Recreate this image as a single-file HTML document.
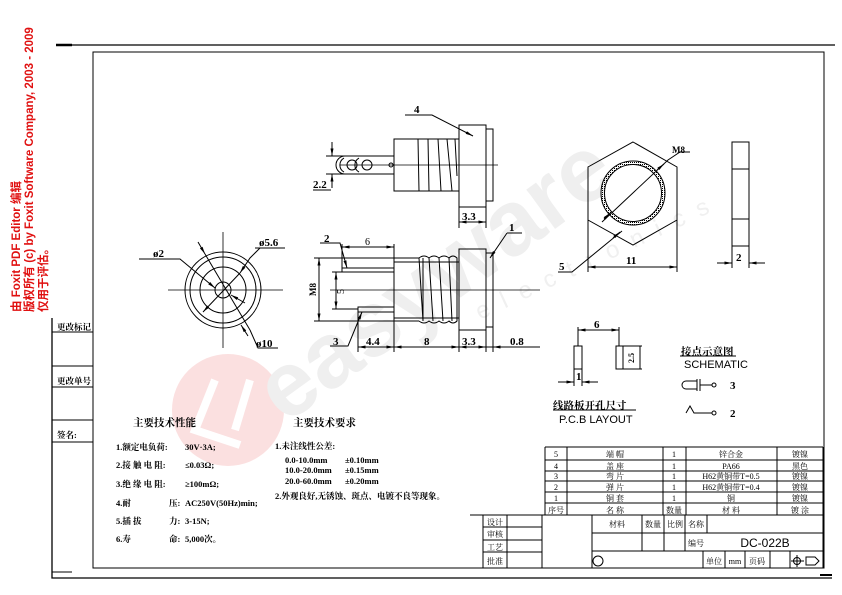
<!DOCTYPE html>
<html><head><meta charset="utf-8"><style>
html,body{margin:0;padding:0;background:#fff}
svg{display:block}
text{font-family:"Liberation Serif","Noto Serif CJK SC","Noto Sans CJK SC",serif;fill:#000}
.b{font-weight:bold}
text.wm{font-family:"Liberation Sans","Noto Sans CJK SC",sans-serif;font-size:11.5px;font-weight:bold;fill:#e01010}
</style></head><body>
<svg width="842" height="595" viewBox="0 0 842 595" xmlns="http://www.w3.org/2000/svg">
<defs>
<marker id="a" viewBox="0 0 10 4" refX="10" refY="2" markerWidth="8" markerHeight="3" orient="auto-start-reverse"><path d="M0,0L10,2L0,4z" fill="#000"/></marker>
<pattern id="h" width="2" height="2" patternUnits="userSpaceOnUse"><rect width="1" height="1" fill="#000"/></pattern>
</defs>
<!-- watermarks -->
<circle cx="228" cy="410" r="56" fill="#fbe0e0"/>
<path d="M215,380 L195,430 L240,445 M250,380 L235,430" stroke="#fff" stroke-width="8" fill="none"/>
<text x="0" y="0" transform="translate(285,425) rotate(-36)" style="font-family:'Liberation Sans',sans-serif;font-size:92px;fill:#efefef;font-weight:bold">easyware</text>
<text x="0" y="0" transform="translate(480,320) rotate(-25)" style="font-family:'Liberation Sans',sans-serif;font-size:24px;fill:#f0f0f0;letter-spacing:14px">electronics</text>
<text class="wm" transform="translate(20,312) rotate(-90)">由 Foxit PDF Editor 编辑</text>
<text class="wm" transform="translate(33,312) rotate(-90)">版权所有 (c) by Foxit Software Company, 2003 - 2009</text>
<text class="wm" transform="translate(47,312) rotate(-90)">仅用于评估。</text>
<g stroke="#000" fill="none" stroke-width="1">
<!-- frames -->
<path d="M56,45H835" stroke-width="1.3"/><path d="M56,45H72" stroke-width="2.5"/>
<rect x="93" y="52" width="731" height="516"/>
<path d="M52,318V578H832" stroke-width="1.3"/>
<path d="M52,572H72"/><path d="M820,575H832" stroke-width="2"/>
<path d="M52,332H93M52,366H93M52,387H93M52,420H93M52,442H93"/>
<!-- side view top -->
<rect x="394" y="139" width="65" height="52"/>
<rect x="459" y="125" width="27" height="82"/>
<rect x="486" y="129" width="7" height="72"/>
<path d="M418,139L419,191M428,139L429,191M438,139L441,191M447,139L452,191M455,139L457,176"/>
<path d="M340,165H498" stroke-width="0.7"/>
<path d="M394,156H345A9,9 0 0 0 345,174H394"/>
<circle cx="352" cy="165" r="5"/><circle cx="367" cy="165" r="5"/>
<path d="M359,158A8,8 0 0 0 359,172M344,158A8,8 0 0 0 344,172"/>
<circle cx="391" cy="165" r="2"/>
<path d="M326,156H345M326,174H345"/>
<path d="M332,142V156" marker-end="url(#a)"/><path d="M332,188V174" marker-end="url(#a)"/>
<path d="M313,190H331"/>
<path d="M417,115H432L473,136" marker-end="url(#a)"/><path d="M405,115H432"/>
<path d="M459,207V228M486,207V228"/><path d="M459,222H486" marker-start="url(#a)" marker-end="url(#a)"/>
<path d="M462,222H482"/>
<!-- front view -->
<rect x="394" y="262" width="65" height="56"/>
<rect x="459" y="249" width="27" height="81"/>
<rect x="486" y="253" width="7" height="74"/>
<path d="M394,258H419M394,321H419"/>
<path d="M419,258q5,-4 10,0q5,-4 10,0q5,-4 10,0q4,-4 8,0V321q-4,4 -8,0q-5,4 -10,0q-5,4 -10,0q-5,4 -10,0"/>
<path d="M419,258L423,321M429,258L433,321M439,258L443,321M449,258L452,321M457,258V321M423,258V321"/>
<path d="M330,290H540" stroke-width="0.7"/>
<path d="M394,268H342V272H394M394,307H358V312H394"/>
<path d="M314,258H394M314,321H394"/>
<path d="M319,258V321" marker-start="url(#a)" marker-end="url(#a)"/>
<path d="M332,272H342M332,309H358"/>
<path d="M336,272V309" marker-start="url(#a)" marker-end="url(#a)"/>
<path d="M342,244V268M394,244V262"/>
<path d="M342,247H394" marker-start="url(#a)" marker-end="url(#a)"/>
<path d="M320,243H340L347,268" marker-end="url(#a)"/>
<path d="M330,346H348L362,312" marker-end="url(#a)"/>
<path d="M507,233H522M507,233L490,258" marker-end="url(#a)"/>
<path d="M358,312V352M394,318V352M459,330V352M486,330V352M493,327V352"/>
<path d="M358,347H540"/>
<path d="M358,347H394" marker-start="url(#a)" marker-end="url(#a)"/>
<path d="M394,347H459" marker-start="url(#a)" marker-end="url(#a)"/>
<path d="M459,347H486" marker-start="url(#a)" marker-end="url(#a)"/>
<path d="M520,347H493" marker-end="url(#a)"/>
<!-- circle view -->
<circle cx="223" cy="290" r="38"/><circle cx="223" cy="290" r="33"/>
<circle cx="223" cy="290" r="23"/><circle cx="223" cy="290" r="8"/>
<path d="M168,290H283M223,232V348" stroke-width="0.8"/>
<path d="M139,259H180L215,288" marker-end="url(#a)"/>
<path d="M198,242L205,254" marker-end="url(#a)"/><path d="M205,254L250,330"/>
<path d="M260,248L250,258L240,273" marker-end="url(#a)"/><path d="M240,273L203,312" marker-end="url(#a)"/>
<path d="M231,295L245,303" marker-start="url(#a)"/>
<path d="M250,330L258,348H278" /><path d="M248,336L241,325" marker-end="url(#a)"/>
<path d="M255,248H285"/>
<!-- hex -->
<path d="M633,142L677,167V220L633,245L588,220V167Z"/>
<circle cx="633" cy="193" r="32" fill="url(#h)" stroke="#000"/>
<circle cx="633" cy="193" r="28.5" fill="#fff"/>
<path d="M602,222L668,160L680,152H690" /><path d="M664,164L657,170" marker-start="url(#a)"/>
<path d="M604,219L610,213" marker-end="url(#a)"/>
<path d="M558,272H572L622,231" /><path d="M613,238L620,232" marker-end="url(#a)"/>
<path d="M588,220V272M677,220V272"/>
<path d="M588,267H677" marker-start="url(#a)" marker-end="url(#a)"/>
<rect x="732" y="142" width="17" height="104"/>
<path d="M732,169H749M732,219H749M732,246V268M749,246V268"/>
<path d="M717,263H732" marker-end="url(#a)"/><path d="M765,263H749" marker-end="url(#a)"/>
<!-- pcb -->
<rect x="574" y="346" width="8" height="23"/><rect x="616" y="346" width="7" height="23"/>
<path d="M578,327V346M619,327V346"/>
<path d="M578,330H619" marker-start="url(#a)" marker-end="url(#a)"/>
<path d="M574,369V386M582,369V386"/>
<path d="M558,382H574" marker-end="url(#a)"/><path d="M598,382H582" marker-end="url(#a)"/>
<path d="M623,346H642M623,369H642M640,346V369"/>
<path d="M553,410H636M680,356H736"/>
<path d="M697,381H686A4,4 0 0 0 686,389H697M697,379V391M700,379V391M700,385H712"/>
<circle cx="714" cy="385" r="2"/>
<path d="M686,413L690,406L694,413H712"/><circle cx="714" cy="413" r="2"/>
<!-- tables -->
<path d="M545,447H823M545,460H823M545,471H823M545,481H823M545,492H823M545,503H823M470,515H823"/>
<path d="M545,447V515M567,447V515M663,447V515M686,447V515M777,447V515M823,447V568"/>
<path d="M483,515V568M507,515V568M542,515V568M592,515V568"/>
<path d="M483,527H542M483,540H542M483,552H542"/>
<path d="M592,533H823M592,551H823M642,515V551M664,515V551M685,515V551M707,515V533M703,551V568M725,551V568M745,551V568M770,551V568M790,551V568"/>
<circle cx="598" cy="561" r="5"/>
<circle cx="797" cy="561" r="3.5"/><path d="M791,561H804M797,555V567"/>
<path d="M806,557H815L819,561L815,565H806Z"/>
</g>
<!-- labels -->
<g class="b" style="font-size:11px">
<text x="414" y="113" class="b">4</text>
<text x="313" y="188" class="b">2.2</text>
<text x="462" y="220" class="b">3.3</text>
<text x="324" y="242" class="b">2</text>
<text x="509" y="231" class="b">1</text>
<text x="333" y="345" class="b">3</text>
<text x="366" y="345" class="b">4.4</text>
<text x="424" y="345" class="b">8</text>
<text x="462" y="345" class="b">3.3</text>
<text x="510" y="345" class="b">0.8</text>
<text x="153" y="257" class="b">ø2</text>
<text x="259" y="246" class="b">ø5.6</text>
<text x="256" y="347" class="b">ø10</text>
<text x="672" y="153" class="b" style="font-size:9px">M8</text>
<text x="559" y="270" class="b">5</text>
<text x="626" y="264" class="b">11</text>
<text x="736" y="261" class="b">2</text>
<text x="594" y="328" class="b">6</text>
<text x="576" y="380" class="b">1</text>
<text transform="translate(316,296) rotate(-90)" class="b" style="font-size:9px">M8</text>
<text x="730" y="389" class="b">3</text>
<text x="730" y="417" class="b">2</text>
</g>
<text x="365" y="245" style="font-size:10px">6</text>
<text transform="translate(344,294) rotate(-90)" style="font-size:10px">5</text>
<text transform="translate(634,363) rotate(-90)" style="font-size:8px" class="b">2.5</text>
<text x="553" y="409" class="b" style="font-size:10.5px">线路板开孔尺寸</text>
<text x="559" y="423" style="font-family:'Liberation Sans',sans-serif;font-size:11px">P.C.B  LAYOUT</text>
<text x="681" y="355" class="b" style="font-size:10.5px">接点示意图</text>
<text x="684" y="368" style="font-family:'Liberation Sans',sans-serif;font-size:11px">SCHEMATIC</text>
<g class="b" style="font-size:8.5px">
<text x="57" y="330" class="b">更改标记</text><text x="57" y="384" class="b">更改单号</text><text x="57" y="438" class="b">签名:</text>
</g>
<text x="133" y="426" class="b" style="font-size:10.5px">主要技术性能</text>
<text x="293" y="426" class="b" style="font-size:10.5px">主要技术要求</text>
<g class="b" style="font-size:8.5px">
<text x="116" y="450">1.额定电负荷:</text><text x="185" y="450">30V·3A;</text>
<text x="116" y="468">2.接 触 电 阻:</text><text x="185" y="468">≤0.03Ω;</text>
<text x="116" y="487">3.绝 缘 电 阻:</text><text x="185" y="487">≥100mΩ;</text>
<text x="116" y="506">4.耐</text><text x="169" y="506">压:</text><text x="185" y="506">AC250V(50Hz)min;</text>
<text x="116" y="524">5.插  拔</text><text x="169" y="524">力:</text><text x="185" y="524">3-15N;</text>
<text x="116" y="542">6.寿</text><text x="169" y="542">命:</text><text x="185" y="542">5,000次。</text>
<text x="275" y="449">1.未注线性公差:</text>
<text x="285" y="463">0.0-10.0mm</text><text x="345" y="463">±0.10mm</text>
<text x="285" y="473">10.0-20.0mm</text><text x="345" y="473">±0.15mm</text>
<text x="285" y="484">20.0-60.0mm</text><text x="345" y="484">±0.20mm</text>
<text x="275" y="499">2.外观良好,无锈蚀、斑点、电镀不良等现象。</text>
</g>
<g style="font-size:8px" text-anchor="middle">
<text x="556" y="457">5</text><text x="615" y="457">端  帽</text><text x="674" y="457">1</text><text x="731" y="457">锌合金</text><text x="800" y="457">镀镍</text>
<text x="556" y="469">4</text><text x="615" y="469">盖  座</text><text x="674" y="469">1</text><text x="731" y="469">PA66</text><text x="800" y="469">黑色</text>
<text x="556" y="479">3</text><text x="615" y="479">弯  片</text><text x="674" y="479">1</text><text x="731" y="479">H62黄铜带T=0.5</text><text x="800" y="479">镀镍</text>
<text x="556" y="490">2</text><text x="615" y="490">弹  片</text><text x="674" y="490">1</text><text x="731" y="490">H62黄铜带T=0.4</text><text x="800" y="490">镀镍</text>
<text x="556" y="501">1</text><text x="615" y="501">铜  套</text><text x="674" y="501">1</text><text x="731" y="501">铜</text><text x="800" y="501">镀镍</text>
<text x="556" y="513">序号</text><text x="615" y="513">名    称</text><text x="674" y="513">数量</text><text x="731" y="513">材    料</text><text x="800" y="513">镀 涂</text>
<text x="495" y="525">设计</text><text x="495" y="537">审核</text><text x="495" y="550">工艺</text><text x="495" y="564">批准</text>
<text x="617" y="527">材料</text><text x="653" y="527">数量</text><text x="675" y="527">比例</text><text x="696" y="527">名称</text>
<text x="696" y="546">编号</text>
<text x="714" y="564">单位</text><text x="735" y="564">mm</text><text x="757" y="564">页码</text>
</g>
<text x="765" y="547" text-anchor="middle" style="font-family:'Liberation Sans',sans-serif;font-size:12px">DC-022B</text>
</svg>
</body></html>
